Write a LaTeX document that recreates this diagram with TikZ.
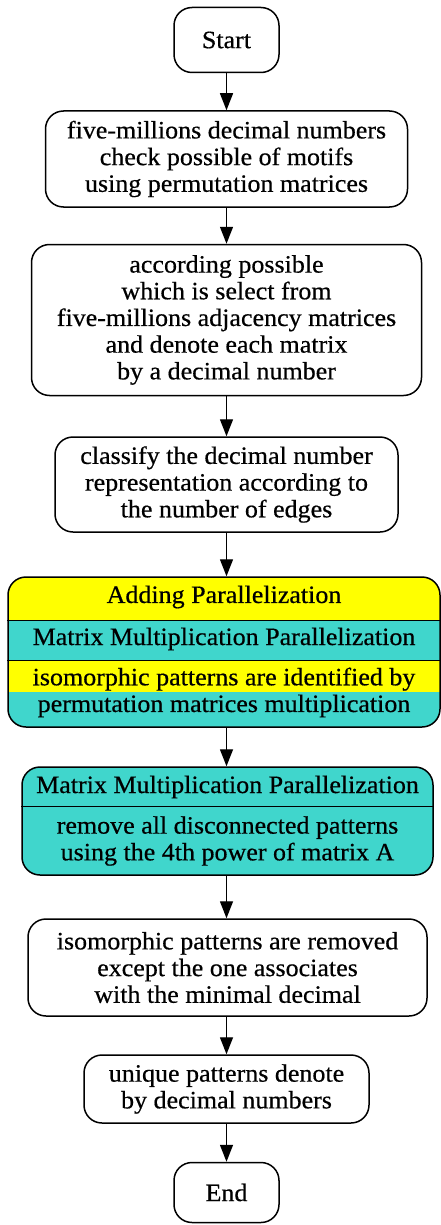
\documentclass[tikz,border=0pt]{standalone}
\usepackage{fontspec}
\setmainfont{Liberation Serif}[FakeStretch=1.04, FakeBold=0.5]
\usetikzlibrary{arrows.meta}
\definecolor{bandyellow}{RGB}{255,255,0}
\definecolor{bandteal}{RGB}{64,214,204}
\tikzstyle{flowbox}=[draw=black, line width=1.5pt, rounded corners=18pt, align=center, inner sep=0pt, font=\fontsize{25}{26.7}\selectfont]
\tikzstyle{rowtext}=[align=center, inner sep=0pt, font=\fontsize{25}{26.7}\selectfont]
\tikzstyle{flow}=[line width=1.4pt, -{Triangle[length=17pt,width=13pt]}]

\begin{document}
\begin{tikzpicture}[x=1pt, y=-1pt]
  \useasboundingbox [fill=white] (0, 0) rectangle (441, 1225);

  \node [flowbox, minimum width=105pt, minimum height=65pt] at (226.5, 40)   (start) {Start};
  \node [flowbox, minimum width=362pt, minimum height=96pt] at (226.5, 159)  (chk) {five-millions decimal numbers\\check possible of motifs\\ using permutation matrices};
  \node [flowbox, minimum width=390pt, minimum height=151pt] at (226.5, 320) (sel) {according possible\\ which is select from\\five-millions adjacency matrices\\and denote each matrix\\ by a decimal number};
  \node [flowbox, minimum width=343pt, minimum height=95pt] at (226.5, 484.5) (cls) {classify the decimal number\\representation according to\\ the number of edges};

  % parallel record box
  \node [flowbox, fill=bandteal, minimum width=432pt, minimum height=150pt, path picture={
      \fill [bandyellow, sharp corners] (path picture bounding box.north west) rectangle ([yshift=-44pt]path picture bounding box.north east);
      \fill [bandyellow, sharp corners] ([yshift=-84pt]path picture bounding box.north west) rectangle ([yshift=-115pt]path picture bounding box.north east);
    }] at (224, 652) (par) {};
  \draw [line width=1.5pt] ([yshift=-44pt]par.north west) -- ([yshift=-44pt]par.north east);
  \draw [line width=1.5pt] ([yshift=-84pt]par.north west) -- ([yshift=-84pt]par.north east);
  \node [rowtext] at (224, 597)   (par_title) {Adding Parallelization};
  \node [rowtext] at (224, 639)   (par_mult)  {Matrix Multiplication Parallelization};
  \node [rowtext] at (224, 692.5) (par_iso)   {isomorphic patterns are identified by\\ permutation matrices multiplication};

  \node [flowbox, fill=bandteal, minimum width=411pt, minimum height=108pt] at (227.5, 821) (mul) {};
  \draw [line width=1.5pt] ([yshift=-40pt]mul.north west) -- ([yshift=-40pt]mul.north east);
  \node [rowtext] at (227.5, 787) (mul_title) {Matrix Multiplication Parallelization};
  \node [rowtext] at (227.5, 841) (mul_rm)    {remove all disconnected patterns\\ using the 4th power of matrix A};

  \node [flowbox, minimum width=399pt, minimum height=97pt] at (227.5, 967.5) (iso) {isomorphic patterns are removed\\ except the one associates\\ with the minimal decimal};
  \node [flowbox, minimum width=285pt, minimum height=68pt] at (226.5, 1089)   (uni) {unique patterns denote\\ by decimal numbers};
  \node [flowbox, minimum width=105pt, minimum height=60pt] at (226.5, 1192.5) (end) {End};

  \draw [flow] (start) to (chk);
  \draw [flow] (chk) to (sel);
  \draw [flow] (sel) to (cls);
  \draw [flow] (cls.south) to (cls.south |- par.north);
  \draw [flow] (cls.south |- par.south) to (cls.south |- mul.north);
  \draw [flow] (cls.south |- mul.south) to (cls.south |- iso.north);
  \draw [flow] (iso.south -| uni.north) to (uni);
  \draw [flow] (uni) to (end);
\end{tikzpicture}
\end{document}
